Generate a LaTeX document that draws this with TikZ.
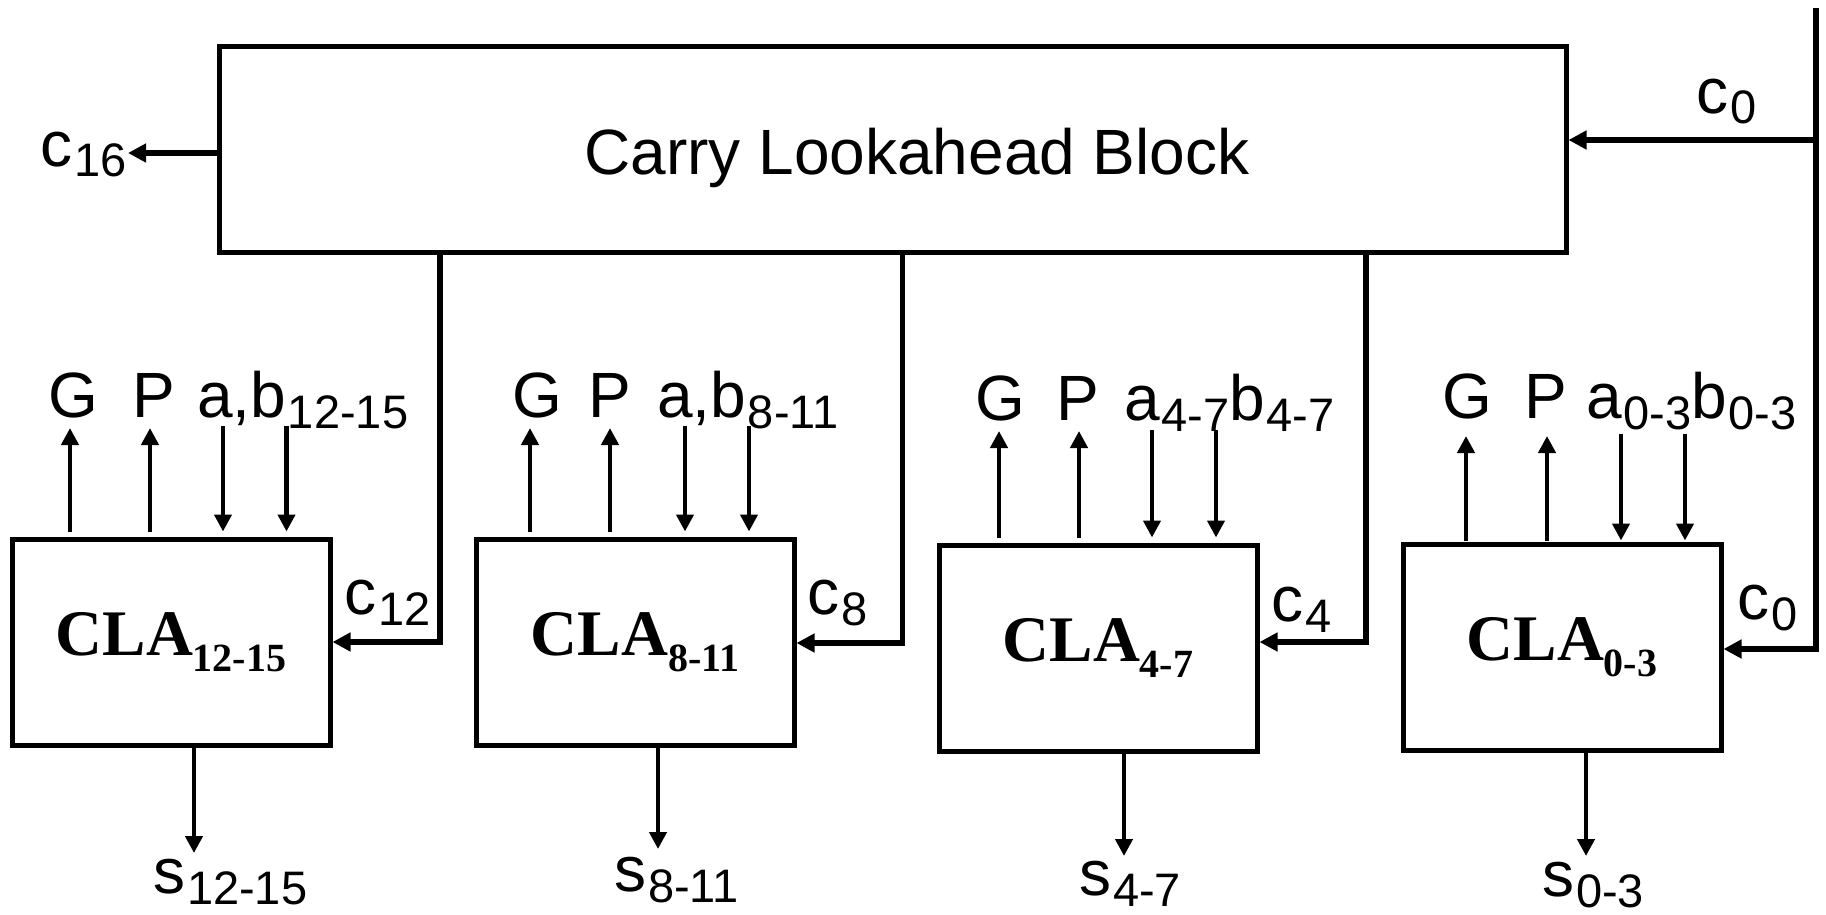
\documentclass[tikz,border=0pt]{standalone}
\usepackage{fontspec}
\setmainfont{Liberation Sans}
\newfontfamily\serifb{Liberation Serif}
\usetikzlibrary{arrows.meta}
\newcommand\sub[1]{\kern0.8pt\raisebox{-5.5pt}{\fontsize{23.5}{28}\selectfont #1}}
\newcommand\clatext[1]{{\serifb\bfseries\fontsize{32.5}{36}\selectfont CLA\raisebox{-8pt}{\fontsize{20}{24}\selectfont #1}}}
\tikzset{
  blockbox/.style={draw, line width=2.5pt, minimum width=159pt, minimum height=103pt, inner sep=0pt},
  sig/.style={line width=2.1pt, -{Triangle[length=8.5pt,width=8.5pt]}},
  carry/.style={line width=2.6pt, -{Triangle[length=9pt,width=9pt]}},
  lbl/.style={inner sep=0pt, anchor=base west, font=\fontsize{32}{38}\selectfont},
  lblc/.style={lbl, anchor=base}
}
\begin{document}
\begin{tikzpicture}[x=0.5pt,y=-0.5pt]
\useasboundingbox (0,0) rectangle (1826,915);
% main block
\node[blockbox, minimum width=673.5pt, minimum height=102.5pt] (clb) at (892.5,149.5) {};
\node[lblc] (clbt) at (917,175) {Carry Lookahead Block};
% CLA blocks
\node[blockbox] (cla1) at (171,642) {\clatext{12-15}};
\node[blockbox] (cla2) at (635,642) {\clatext{8-11}};
\node[blockbox] (cla3) at (1098,648) {\clatext{4-7}};
\node[blockbox] (cla4) at (1562,647) {\clatext{0-3}};
% carries
\coordinate (k1) at (440,642);
\coordinate (k2) at (902.5,643);
\coordinate (k3) at (1366,642);
\draw[carry] (clb.south -| k1) -- (k1) -- (cla1.east |- k1);
\draw[carry] (clb.south -| k2) -- (k2) -- (cla2.east |- k2);
\draw[carry] (clb.south -| k3) -- (k3) -- (cla3.east |- k3);
\coordinate (ctop) at (1816,8);
\coordinate (cj) at (1816,140);
\coordinate (k4) at (1816,649);
\draw[carry] (ctop) -- (k4) -- (cla4.east |- k4);
\draw[carry, line width=3pt] (cj) -- (clb.east |- cj);
\coordinate (c16e) at (128,153);
\draw[carry, line width=3pt] (clb.west |- c16e) -- (c16e);
% carry labels
\node[lbl] (lc16) at (40,166) {c\sub{16}};
\node[lbl] (lc0t) at (1696,113) {c\sub{0}};
\node[lbl] (lc12) at (344,614) {c\sub{12}};
\node[lbl] (lc8) at (807,614) {c\sub{8}};
\node[lbl] (lc4) at (1271,621) {c\sub{4}};
\node[lbl] (lc0) at (1737,619) {c\sub{0}};
% group arrows
\foreach \n/\g/\p/\a/\b/\s/\tu/\td/\ts/\sh in {1/70/150/223/286.5/194/428/426/853/2.5pt, 2/530/610/685/749/658/428/426/849/2.5pt, 3/999/1079/1152/1216/1124/431/430/856/2.5pt, 4/1466/1547/1621/1685/1586/436/434/856/0.5pt}{
  \coordinate (G\n) at (\g,\tu);
  \coordinate (P\n) at (\p,\tu);
  \coordinate (A\n) at (\a,\td);
  \coordinate (B\n) at (\b,\td);
  \coordinate (S\n) at (\s,\ts);
  \draw[sig, shorten <=\sh] (cla\n.north -| G\n) -- (G\n);
  \draw[sig, shorten <=\sh] (cla\n.north -| P\n) -- (P\n);
  \draw[sig, shorten >=\sh] (A\n) -- (cla\n.north -| A\n);
  \draw[sig, shorten >=\sh] (B\n) -- (cla\n.north -| B\n);
  \draw[sig] (cla\n.south -| S\n) -- (S\n);
}
% top labels
\node[lblc] (lg1) at (73,417) {G};
\node[lblc] (lp1) at (154,417) {P};
\node[lbl] (lab1) at (197,417) {a,b\sub{12-15}};
\node[lblc] (lg2) at (537,417) {G};
\node[lblc] (lp2) at (610,417) {P};
\node[lbl] (lab2) at (657,417) {a,b\sub{8-11}};
\node[lblc] (lg3) at (1000,420) {G};
\node[lblc] (lp3) at (1078,420) {P};
\node[lbl] (lab3) at (1124,420) {a\sub{4-7}b\sub{4-7}};
\node[lblc] (lg4) at (1467,418) {G};
\node[lblc] (lp4) at (1546,418) {P};
\node[lbl] (lab4) at (1586,418) {a\sub{0-3}b\sub{0-3}};
% sum labels
\node[lbl] (ls1) at (153,893) {s\sub{12-15}};
\node[lbl] (ls2) at (614,891) {s\sub{8-11}};
\node[lbl] (ls3) at (1079,895) {s\sub{4-7}};
\node[lbl] (ls4) at (1542,896) {s\sub{0-3}};
\end{tikzpicture}
\end{document}
